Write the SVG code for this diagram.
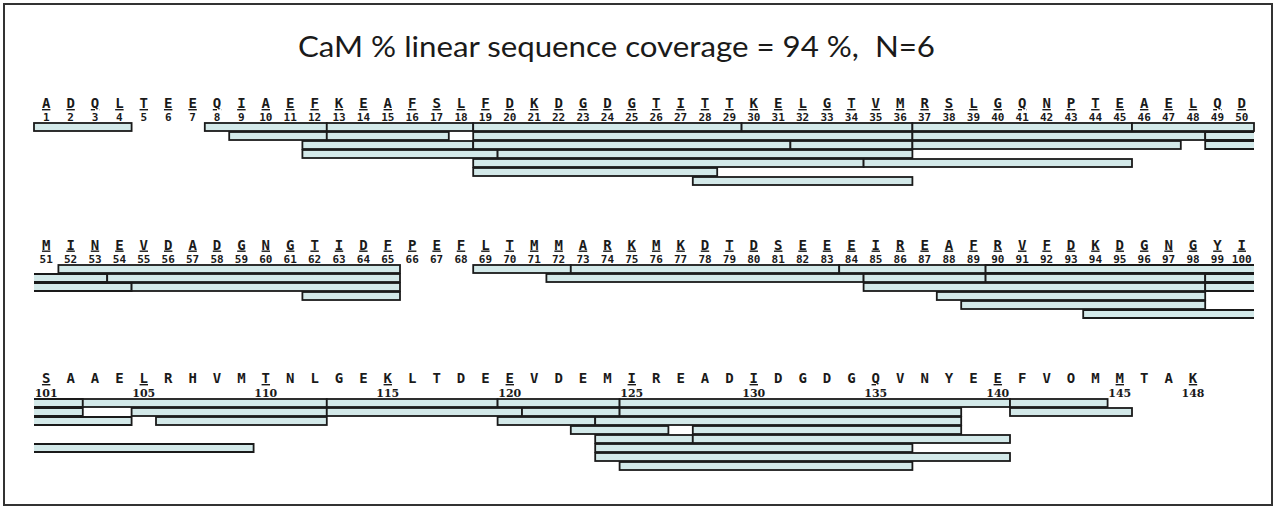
<svg xmlns="http://www.w3.org/2000/svg" width="1280" height="514" viewBox="0 0 1280 514">
<style>
.frame{fill:#ffffff;stroke:#333333;stroke-width:2}
.title{font-family:"Lato","Liberation Sans",sans-serif;font-size:28px;fill:#1a1a1a}
.aa{font-family:"DejaVu Sans Mono",monospace;font-weight:bold;font-size:14px;fill:#1a1a1a;text-anchor:middle}
.u{text-decoration:underline}
.n{font-family:"DejaVu Sans Mono",monospace;font-weight:bold;font-size:11px;fill:#1a1a1a;text-anchor:middle}
.ns{font-family:"DejaVu Serif",serif;font-weight:bold;font-size:11px;fill:#1a1a1a;text-anchor:middle}
.b{fill:#d3e9e9;stroke:#1a1a1a;stroke-width:1.8}
</style>
<rect class="frame" x="4" y="4" width="1268" height="501"/>
<text id="title" class="title" x="298" y="57" textLength="637" lengthAdjust="spacingAndGlyphs" xml:space="preserve">CaM % linear sequence coverage = 94 %,  N=6</text>

<g id="row1">
<text class="aa u" x="46.2 70.6 95 119.4 143.8 168.2 192.6 217 241.4 265.8 290.2 314.6 339 363.4 387.8 412.2 436.6 461 485.4 509.8 534.2 558.6 583 607.4 631.8 656.2 680.6 705 729.4 753.8 778.2 802.6 827 851.4 875.8 900.2 924.6 949 973.4 997.8 1022.2 1046.6 1071 1095.4 1119.8 1144.2 1168.6 1193 1217.4 1241.8" y="108">ADQLTEEQIAEFKEAFSLFDKDGDGTITTKELGTVMRSLGQNPTEAELQD</text>
<text class="n" y="120.5"><tspan x="46.2">1</tspan><tspan x="70.6">2</tspan><tspan x="95">3</tspan><tspan x="119.4">4</tspan><tspan x="143.8">5</tspan><tspan x="168.2">6</tspan><tspan x="192.6">7</tspan><tspan x="217">8</tspan><tspan x="241.4">9</tspan><tspan x="265.8">10</tspan><tspan x="290.2">11</tspan><tspan x="314.6">12</tspan><tspan x="339">13</tspan><tspan x="363.4">14</tspan><tspan x="387.8">15</tspan><tspan x="412.2">16</tspan><tspan x="436.6">17</tspan><tspan x="461">18</tspan><tspan x="485.4">19</tspan><tspan x="509.8">20</tspan><tspan x="534.2">21</tspan><tspan x="558.6">22</tspan><tspan x="583">23</tspan><tspan x="607.4">24</tspan><tspan x="631.8">25</tspan><tspan x="656.2">26</tspan><tspan x="680.6">27</tspan><tspan x="705">28</tspan><tspan x="729.4">29</tspan><tspan x="753.8">30</tspan><tspan x="778.2">31</tspan><tspan x="802.6">32</tspan><tspan x="827">33</tspan><tspan x="851.4">34</tspan><tspan x="875.8">35</tspan><tspan x="900.2">36</tspan><tspan x="924.6">37</tspan><tspan x="949">38</tspan><tspan x="973.4">39</tspan><tspan x="997.8">40</tspan><tspan x="1022.2">41</tspan><tspan x="1046.6">42</tspan><tspan x="1071">43</tspan><tspan x="1095.4">44</tspan><tspan x="1119.8">45</tspan><tspan x="1144.2">46</tspan><tspan x="1168.6">47</tspan><tspan x="1193">48</tspan><tspan x="1217.4">49</tspan><tspan x="1241.8">50</tspan></text>
<g id="row1-bars">
<rect class="b" x="34" y="123" width="97.6" height="8"/>
<rect class="b" x="204.8" y="123" width="122" height="8"/>
<rect class="b" x="326.8" y="123" width="146.4" height="8"/>
<rect class="b" x="473.2" y="123" width="268.4" height="8"/>
<rect class="b" x="741.6" y="123" width="170.8" height="8"/>
<rect class="b" x="912.4" y="123" width="219.6" height="8"/>
<rect class="b" x="1132" y="123" width="122" height="8"/>
<rect class="b" x="229.2" y="132" width="97.6" height="8"/>
<rect class="b" x="326.8" y="132" width="122" height="8"/>
<rect class="b" x="473.2" y="132" width="439.2" height="8"/>
<rect class="b" x="912.4" y="132" width="292.8" height="8"/>
<path class="b" d="M1254 132H1205.2V140H1254"/>
<rect class="b" x="302.4" y="141" width="170.8" height="8"/>
<rect class="b" x="473.2" y="141" width="317.2" height="8"/>
<rect class="b" x="790.4" y="141" width="122" height="8"/>
<rect class="b" x="912.4" y="141" width="268.4" height="8"/>
<path class="b" d="M1254 141H1205.2V149H1254"/>
<rect class="b" x="302.4" y="150" width="195.2" height="8"/>
<rect class="b" x="497.6" y="150" width="414.8" height="8"/>
<rect class="b" x="473.2" y="159" width="390.4" height="8"/>
<rect class="b" x="863.6" y="159" width="268.4" height="8"/>
<rect class="b" x="473.2" y="168" width="244" height="8"/>
<rect class="b" x="692.8" y="177" width="219.6" height="8"/>
</g>
</g>

<g id="row2">
<text class="aa u" x="46.2 70.6 95 119.4 143.8 168.2 192.6 217 241.4 265.8 290.2 314.6 339 363.4 387.8 412.2 436.6 461 485.4 509.8 534.2 558.6 583 607.4 631.8 656.2 680.6 705 729.4 753.8 778.2 802.6 827 851.4 875.8 900.2 924.6 949 973.4 997.8 1022.2 1046.6 1071 1095.4 1119.8 1144.2 1168.6 1193 1217.4 1241.8" y="249.5">MINEVDADGNGTIDFPEFLTMMARKMKDTDSEEEIREAFRVFDKDGNGYI</text>
<text class="n" y="262.5"><tspan x="46.2">51</tspan><tspan x="70.6">52</tspan><tspan x="95">53</tspan><tspan x="119.4">54</tspan><tspan x="143.8">55</tspan><tspan x="168.2">56</tspan><tspan x="192.6">57</tspan><tspan x="217">58</tspan><tspan x="241.4">59</tspan><tspan x="265.8">60</tspan><tspan x="290.2">61</tspan><tspan x="314.6">62</tspan><tspan x="339">63</tspan><tspan x="363.4">64</tspan><tspan x="387.8">65</tspan><tspan x="412.2">66</tspan><tspan x="436.6">67</tspan><tspan x="461">68</tspan><tspan x="485.4">69</tspan><tspan x="509.8">70</tspan><tspan x="534.2">71</tspan><tspan x="558.6">72</tspan><tspan x="583">73</tspan><tspan x="607.4">74</tspan><tspan x="631.8">75</tspan><tspan x="656.2">76</tspan><tspan x="680.6">77</tspan><tspan x="705">78</tspan><tspan x="729.4">79</tspan><tspan x="753.8">80</tspan><tspan x="778.2">81</tspan><tspan x="802.6">82</tspan><tspan x="827">83</tspan><tspan x="851.4">84</tspan><tspan x="875.8">85</tspan><tspan x="900.2">86</tspan><tspan x="924.6">87</tspan><tspan x="949">88</tspan><tspan x="973.4">89</tspan><tspan x="997.8">90</tspan><tspan x="1022.2">91</tspan><tspan x="1046.6">92</tspan><tspan x="1071">93</tspan><tspan x="1095.4">94</tspan><tspan x="1119.8">95</tspan><tspan x="1144.2">96</tspan><tspan x="1168.6">97</tspan><tspan x="1193">98</tspan><tspan x="1217.4">99</tspan><tspan x="1241.8">100</tspan></text>
<g id="row2-bars">
<rect class="b" x="58.4" y="265" width="341.6" height="8"/>
<rect class="b" x="473.2" y="265" width="97.6" height="8"/>
<rect class="b" x="570.8" y="265" width="268.4" height="8"/>
<rect class="b" x="839.2" y="265" width="146.4" height="8"/>
<path class="b" d="M1254 265H985.6V273H1254"/>
<path class="b" d="M34 274H107.2V282H34"/>
<rect class="b" x="107.2" y="274" width="292.8" height="8"/>
<rect class="b" x="546.4" y="274" width="317.2" height="8"/>
<rect class="b" x="863.6" y="274" width="122" height="8"/>
<rect class="b" x="985.6" y="274" width="219.6" height="8"/>
<path class="b" d="M1254 274H1205.2V282H1254"/>
<path class="b" d="M34 283H131.6V291H34"/>
<rect class="b" x="131.6" y="283" width="268.4" height="8"/>
<rect class="b" x="863.6" y="283" width="341.6" height="8"/>
<path class="b" d="M1254 283H1205.2V291H1254"/>
<rect class="b" x="302.4" y="292" width="97.6" height="8"/>
<rect class="b" x="936.8" y="292" width="268.4" height="8"/>
<rect class="b" x="961.2" y="301" width="244" height="8"/>
<path class="b" d="M1254 310H1083.2V318H1254"/>
</g>
</g>

<g id="row3">
<text class="aa" x="46.2 70.6 95 119.4 143.8 168.2 192.6 217 241.4 265.8 290.2 314.6 339 363.4 387.8 412.2 436.6 461 485.4 509.8 534.2 558.6 583 607.4 631.8 656.2 680.6 705 729.4 753.8 778.2 802.6 827 851.4 875.8 900.2 924.6 949 973.4 997.8 1022.2 1046.6 1071 1095.4 1119.8 1144.2 1168.6 1193" y="383"><tspan class="u">S</tspan>AAE<tspan class="u">L</tspan>RHVM<tspan class="u">T</tspan>NLGE<tspan class="u">K</tspan>LTDE<tspan class="u">E</tspan>VDEM<tspan class="u">I</tspan>READ<tspan class="u">I</tspan>DGDG<tspan class="u">Q</tspan>VNYE<tspan class="u">E</tspan>FVOM<tspan class="u">M</tspan>TA<tspan class="u">K</tspan></text>
<text class="ns" y="397"><tspan x="46.2">101</tspan><tspan x="143.8">105</tspan><tspan x="265.8">110</tspan><tspan x="387.8">115</tspan><tspan x="509.8">120</tspan><tspan x="631.8">125</tspan><tspan x="753.8">130</tspan><tspan x="875.8">135</tspan><tspan x="997.8">140</tspan><tspan x="1119.8">145</tspan><tspan x="1193">148</tspan></text>
<g id="row3-bars">
<path class="b" d="M34 399H82.8V407H34"/>
<rect class="b" x="82.8" y="399" width="244" height="8"/>
<rect class="b" x="326.8" y="399" width="170.8" height="8"/>
<rect class="b" x="497.6" y="399" width="122" height="8"/>
<rect class="b" x="619.6" y="399" width="390.4" height="8"/>
<rect class="b" x="1010" y="399" width="97.6" height="8"/>
<path class="b" d="M34 408H82.8V416H34"/>
<rect class="b" x="131.6" y="408" width="195.2" height="8"/>
<rect class="b" x="326.8" y="408" width="195.2" height="8"/>
<rect class="b" x="522" y="408" width="97.6" height="8"/>
<rect class="b" x="619.6" y="408" width="341.6" height="8"/>
<rect class="b" x="1010" y="408" width="122" height="8"/>
<path class="b" d="M34 417H131.6V425H34"/>
<rect class="b" x="156" y="417" width="170.8" height="8"/>
<rect class="b" x="497.6" y="417" width="97.6" height="8"/>
<rect class="b" x="595.2" y="417" width="366" height="8"/>
<rect class="b" x="570.8" y="426" width="97.6" height="8"/>
<rect class="b" x="692.8" y="426" width="268.4" height="8"/>
<rect class="b" x="595.2" y="435" width="97.6" height="8"/>
<rect class="b" x="692.8" y="435" width="317.2" height="8"/>
<path class="b" d="M34 444H253.6V452H34"/>
<rect class="b" x="595.2" y="444" width="317.2" height="8"/>
<rect class="b" x="595.2" y="453" width="414.8" height="8"/>
<rect class="b" x="619.6" y="462" width="292.8" height="8"/>
</g>
</g>
</svg>
